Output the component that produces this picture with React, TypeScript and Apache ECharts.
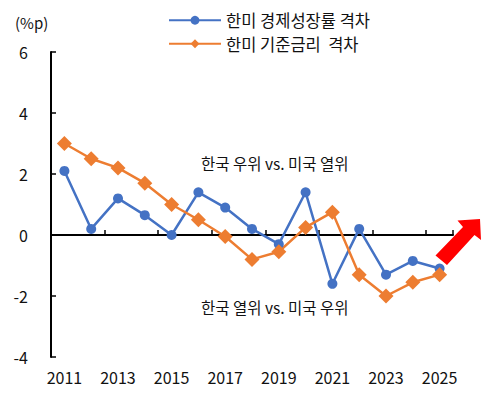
import React, { useEffect, useRef } from "react";
import * as echarts from "echarts";

// 연도 및 한미 격차 (%p)
const years = ["2011","2012","2013","2014","2015","2016","2017","2018","2019","2020","2021","2022","2023","2024","2025"];
const growthGap = [2.1, 0.2, 1.2, 0.65, 0.0, 1.4, 0.9, 0.2, -0.3, 1.4, -1.6, 0.2, -1.3, -0.85, -1.1];
const rateGap = [3.0, 2.5, 2.2, 1.7, 1.0, 0.5, -0.05, -0.8, -0.55, 0.25, 0.75, -1.3, -2.0, -1.55, -1.3];
const seriesNames = ["한미 경제성장률 격차", "한미 기준금리  격차"];
const unitLabel = "(%p)";
const upperNote = "한국 우위 vs. 미국 열위";
const lowerNote = "한국 열위 vs. 미국 우위";

const FONT = '"Noto Sans CJK KR", "Noto Sans", sans-serif';
const BLUE = "#4472C4";
const ORANGE = "#ED7D31";

export default function App() {
  const ref = useRef<HTMLDivElement>(null);

  useEffect(() => {
    if (!ref.current) return;
    const chart = echarts.init(ref.current, undefined, { renderer: "svg" });
    chart.setOption({
      animation: false,
      textStyle: { fontFamily: FONT },
      grid: { left: 51, right: 41, top: 52, bottom: 36, containLabel: false },
      legend: {
        orient: "vertical",
        left: 163,
        top: 7,
        itemWidth: 52,
        itemHeight: 11,
        itemGap: 7,
        textStyle: { fontSize: 16.5, color: "#111", fontFamily: FONT },
        data: seriesNames,
      },
      xAxis: [
        {
          type: "category",
          data: years,
          boundaryGap: true,
          axisLine: { onZero: true, lineStyle: { color: "#000", width: 2 } },
          axisTick: { show: true, inside: true, interval: 1, length: 5, lineStyle: { color: "#000", width: 1.5 } },
          axisLabel: { show: false },
          splitLine: { show: false },
        },
        {
          type: "category",
          data: years,
          position: "bottom",
          boundaryGap: true,
          axisLine: { show: false, onZero: false },
          axisTick: { show: false },
          axisLabel: { interval: 1, margin: 12, fontSize: 16, color: "#111", fontFamily: FONT },
          splitLine: { show: false },
        },
      ],
      yAxis: {
        type: "value",
        min: -4,
        max: 6,
        interval: 2,
        axisLine: { show: true, lineStyle: { color: "#000", width: 2 } },
        axisTick: { show: true, inside: true, length: 5, lineStyle: { color: "#000", width: 1.5 } },
        axisLabel: { margin: 23, fontSize: 16, color: "#111", fontFamily: FONT },
        splitLine: { show: false },
      },
      series: [
        {
          name: seriesNames[0],
          type: "line",
          xAxisIndex: 0,
          data: growthGap,
          symbol: "circle",
          symbolSize: 10,
          lineStyle: { color: BLUE, width: 2.5 },
          itemStyle: { color: BLUE },
        },
        {
          name: seriesNames[1],
          type: "line",
          xAxisIndex: 0,
          data: rateGap,
          symbol: "diamond",
          symbolSize: 15,
          lineStyle: { color: ORANGE, width: 2.5 },
          itemStyle: { color: ORANGE },
        },
      ],
      graphic: [
        {
          type: "text",
          left: 15,
          top: 15,
          style: { text: unitLabel, font: `15px ${FONT}`, fill: "#111" },
        },
        {
          type: "text",
          x: 201,
          y: 163,
          style: { text: upperNote, font: `15.5px ${FONT}`, fill: "#111", verticalAlign: "middle" },
        },
        {
          type: "text",
          x: 201,
          y: 307,
          style: { text: lowerNote, font: `15.5px ${FONT}`, fill: "#111", verticalAlign: "middle" },
        },
        {
          type: "polygon",
          shape: {
            points: [
              [480, 219],
              [457.5, 220.5],
              [463, 227],
              [435.5, 255.5],
              [447, 265],
              [474.5, 235],
              [481, 240],
            ],
          },
          style: { fill: "#FF0000" },
        },
      ],
    });
    return () => chart.dispose();
  }, []);

  return (
    <div
      ref={ref}
      style={{ position: "absolute", left: 0, top: 0, width: 494, height: 393, background: "#fff" }}
    />
  );
}
